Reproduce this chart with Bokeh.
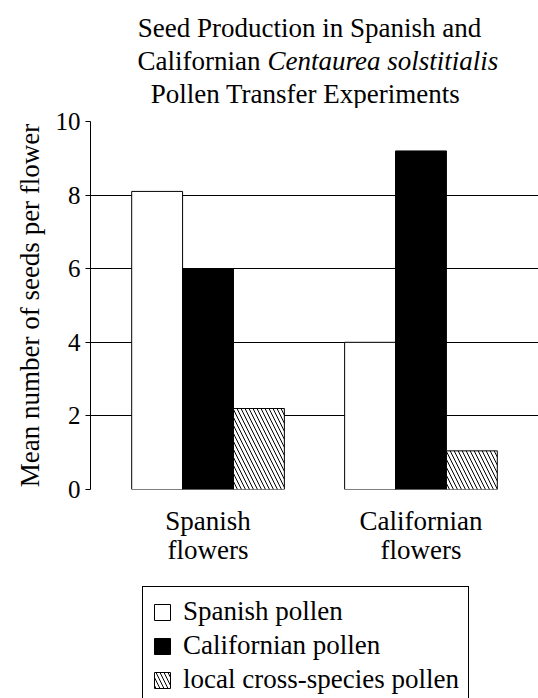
from bokeh.plotting import figure
from bokeh.layouts import column
from bokeh.models import (ColumnDataSource, Range1d, FixedTicker,
                          Legend, LegendItem, LinearAxis)
from bokeh.core.properties import value
from bokeh.transform import dodge
from bokeh.embed import file_html
from bokeh.resources import INLINE

# ---- data ----
group_line1 = ["Spanish", "Californian"]
group_line2 = ["flowers", "flowers"]
spanish_pollen = [8.1, 4.0]
californian_pollen = [6.0, 9.2]
cross_species_pollen = [2.2, 1.05]
y_ticks = [0, 2, 4, 6, 8, 10]
series_labels = ["Spanish pollen", "Californian pollen", "local cross-species pollen"]
title_line1 = "Seed Production in Spanish and"
title_line2a = "Californian"
title_line2b = "Centaurea solstitialis"
title_line3 = "Pollen Transfer Experiments"
y_label = "Mean number of seeds per flower"

FONT = "Liberation Serif"
PAGE_W, PAGE_H = 538, 698
LEFT = 90          # width of the left border (y axis area)

# ---- title figure (page-pixel coordinates) ----
TH = 108
t = figure(width=PAGE_W, height=TH, x_range=Range1d(LEFT, PAGE_W), y_range=Range1d(TH, 0),
           output_backend="svg", toolbar_location=None,
           min_border=0, min_border_left=LEFT, x_axis_type=None, y_axis_type=None)
t.title = None
t.outline_line_color = None
t.grid.grid_line_color = None
tsrc = ColumnDataSource(dict(
    x=[309, 260, 267, 305],
    y=[27, 60, 60, 93],
    text=[title_line1, title_line2a, title_line2b, title_line3],
    align=["center", "right", "left", "center"],
    style=["normal", "normal", "italic", "normal"],
))
t.text(x="x", y="y", text="text", text_align="align", text_font_style="style",
       text_baseline="alphabetic", text_font=value(FONT),
       text_font_size=value("27px"), text_color="black", source=tsrc)

# ---- main figure ----
gx = [i + 0.5 for i in range(len(group_line1))]
src = ColumnDataSource(dict(gx=gx, sp=spanish_pollen,
                            ca=californian_pollen, lx=cross_species_pollen))

FH = 368
FRAME_TOP = 121
BOTTOM_BORDER = 80
p = figure(frame_width=PAGE_W - LEFT, frame_height=FH,
           x_range=Range1d(-0.052, len(gx) + 0.052),
           y_range=Range1d(0, 10),
           output_backend="svg", toolbar_location=None,
           min_border_left=LEFT, min_border_right=0,
           min_border_top=FRAME_TOP - TH, min_border_bottom=BOTTOM_BORDER)
p.title = None
p.outline_line_color = None
p.background_fill_color = "white"
p.border_fill_color = "white"

W = 0.239
bar_styles = [
    dict(fill_color="white", line_color="black", line_width=1),
    dict(fill_color="black", line_color="black", line_width=1),
    dict(fill_color="white", line_color="black", line_width=1,
         hatch_pattern="\\", hatch_color="black", hatch_scale=8, hatch_weight=1),
]
p.vbar(x=dodge("gx", -W), top="sp", width=W, source=src, **bar_styles[0])
p.vbar(x=dodge("gx", 0), top="ca", width=W, source=src, **bar_styles[1])
p.vbar(x=dodge("gx", W), top="lx", width=W, source=src, **bar_styles[2])

# grid
p.xgrid.grid_line_color = None
p.ygrid.ticker = FixedTicker(ticks=y_ticks[1:])
p.ygrid.grid_line_color = "black"
p.ygrid.grid_line_alpha = 1.0
p.ygrid.grid_line_width = 1

# y axis
p.yaxis.ticker = FixedTicker(ticks=y_ticks)
p.yaxis.axis_label = y_label
p.yaxis.axis_label_text_font = FONT
p.yaxis.axis_label_text_font_size = "27px"
p.yaxis.axis_label_text_font_style = "normal"
p.yaxis.axis_label_text_color = "black"
p.yaxis.axis_label_standoff = 8
p.yaxis.major_label_text_font = FONT
p.yaxis.major_label_text_font_size = "25px"
p.yaxis.major_label_text_color = "black"
p.yaxis.major_label_standoff = 5
p.yaxis.major_tick_out = 5
p.yaxis.major_tick_in = 0
p.yaxis.minor_tick_line_color = None
p.yaxis.axis_line_color = "black"
p.yaxis.major_tick_line_color = "black"

# x axes (two lines of category labels)
ax1 = p.xaxis[0]
ax2 = LinearAxis()
p.add_layout(ax2, "below")
for ax, words, standoff in [(ax1, group_line1, 10), (ax2, group_line2, -10)]:
    ax.ticker = FixedTicker(ticks=gx)
    ax.axis_line_color = None
    ax.major_tick_line_color = None
    ax.minor_tick_line_color = None
    ax.major_label_text_font = FONT
    ax.major_label_text_font_size = "27px"
    ax.major_label_text_color = "black"
    ax.major_label_standoff = standoff
    ax.major_label_overrides = {g: w for g, w in zip(gx, words)}

# ---- legend figure ----
LH = PAGE_H - (FRAME_TOP + FH + BOTTOM_BORDER)
lg = figure(width=PAGE_W, height=LH, x_range=Range1d(0, 1), y_range=Range1d(0, 1),
            output_backend="svg", toolbar_location=None,
            min_border=0, min_border_left=LEFT, x_axis_type=None, y_axis_type=None)
lg.title = None
lg.outline_line_color = None
lg.grid.grid_line_color = None
nan = float("nan")
swatch_src = ColumnDataSource(dict(x=[nan], top=[nan]))
legend_renderers = [lg.vbar(x="x", top="top", width=0.1, source=swatch_src, **st)
                    for st in bar_styles]

legend = Legend(items=[LegendItem(label=lab, renderers=[r])
                       for lab, r in zip(series_labels, legend_renderers)],
                location=(142 - LEFT, -7), orientation="vertical")
legend.label_text_font = FONT
legend.label_text_font_size = "27px"
legend.label_text_color = "black"
legend.glyph_width = 20
legend.glyph_height = 20
legend.label_height = 30
legend.spacing = 3
legend.padding = 9
legend.label_standoff = 11
legend.border_line_color = "black"
legend.border_line_width = 1
legend.border_line_alpha = 1
legend.background_fill_alpha = 1
legend.margin = 0
lg.add_layout(legend)

layout = column(t, p, lg, spacing=0)
open("out.html", "w").write(file_html(layout, INLINE))
